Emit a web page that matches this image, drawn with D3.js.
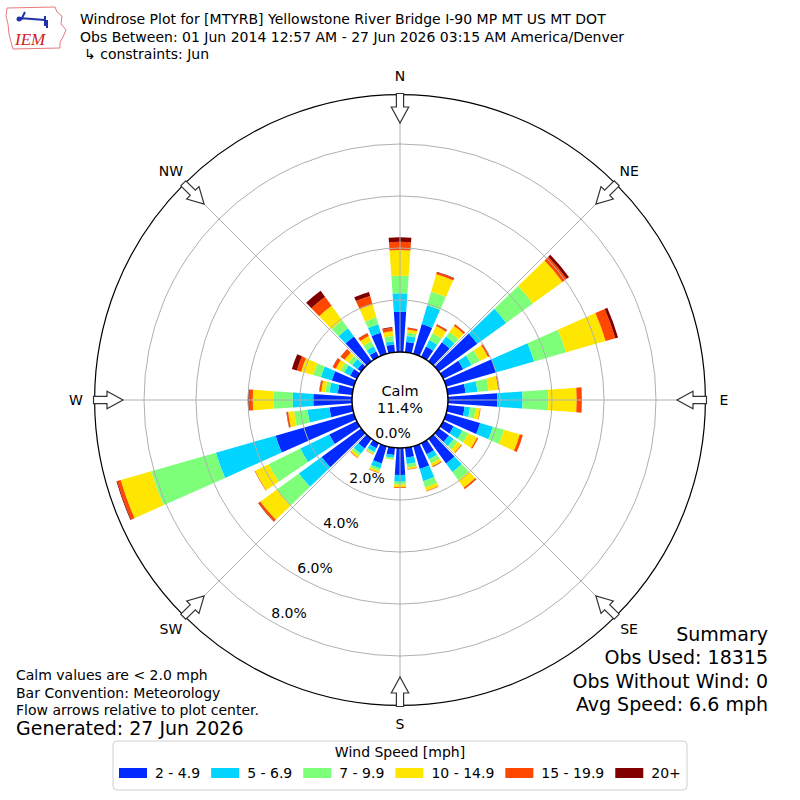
<!DOCTYPE html>
<html>
<head>
<meta charset="utf-8">
<script src="https://cdn.jsdelivr.net/npm/d3@7/dist/d3.min.js"></script>
<style>
  body { margin: 0; background: #fff; }
  text { font-family: "DejaVu Sans", sans-serif; }
</style>
</head>
<body>
<div id="chart"></div>
<script>
// wind directions (deg, from north, clockwise)
var directions = [0, 10, 20, 30, 40, 50, 60, 70, 80, 90, 100, 110, 120, 130, 140, 150, 160, 170,
                  180, 190, 200, 210, 220, 230, 240, 250, 260, 270, 280, 290, 300, 310, 320, 330, 340, 350];

var speedBins = ["2 - 4.9", "5 - 6.9", "7 - 9.9", "10 - 14.9", "15 - 19.9", "20+"];

// frequency (%) per direction for each speed bin
var s2to5   = [1.55, 0.40, 1.19, 0.44, 0.90, 1.83, 0.86, 2.01, 0.69, 1.90, 0.65, 1.36, 0.45, 0.48, 1.17, 0.48, 0.91, 0.38,
               1.04, 0.28, 0.69, 0.22, 0.46, 1.88, 1.18, 3.13, 0.88, 1.49, 0.56, 0.88, 0.29, 0.17, 1.17, 0.23, 0.84, 0.30];
var s5to7   = [0.71, 0.23, 0.75, 0.28, 0.27, 1.37, 0.36, 1.51, 0.46, 0.97, 0.21, 0.51, 0.37, 0.23, 0.41, 0.21, 0.49, 0.25,
               0.26, 0.11, 0.20, 0.16, 0.25, 1.08, 1.24, 2.39, 0.85, 0.79, 0.32, 0.44, 0.25, 0.26, 0.39, 0.22, 0.34, 0.13];
var s7to10  = [0.67, 0.13, 0.55, 0.29, 0.22, 1.27, 0.35, 1.28, 0.43, 0.99, 0.22, 0.45, 0.26, 0.18, 0.38, 0.18, 0.25, 0.13,
               0.10, 0.06, 0.09, 0.07, 0.10, 1.05, 1.36, 2.59, 0.52, 0.75, 0.16, 0.31, 0.16, 0.18, 0.38, 0.22, 0.27, 0.20];
var s10to15 = [0.99, 0.12, 0.70, 0.31, 0.29, 1.41, 0.35, 1.58, 0.37, 1.09, 0.17, 0.63, 0.37, 0.18, 0.36, 0.12, 0.14, 0.07,
               0.11, 0.02, 0.08, 0.04, 0.09, 0.78, 0.58, 1.22, 0.23, 0.79, 0.16, 0.48, 0.20, 0.18, 0.69, 0.22, 0.52, 0.19];
var s15to20 = [0.32, 0.07, 0.08, 0.06, 0.07, 0.20, 0.06, 0.39, 0.02, 0.19, 0.02, 0.12, 0.05, 0.03, 0.06, 0.03, 0.02, 0.02,
               0.03, 0.00, 0.02, 0.01, 0.02, 0.09, 0.02, 0.14, 0.06, 0.13, 0.07, 0.17, 0.13, 0.18, 0.43, 0.12, 0.35, 0.13];
var s20plus = [0.17, 0.01, 0.02, 0.02, 0.01, 0.11, 0.01, 0.11, 0.01, 0.01, 0.00, 0.00, 0.00, 0.00, 0.01, 0.01, 0.00, 0.00,
               0.00, 0.00, 0.00, 0.00, 0.00, 0.02, 0.00, 0.03, 0.01, 0.06, 0.01, 0.20, 0.01, 0.01, 0.29, 0.01, 0.16, 0.03];

var ringTicks = [0, 2, 4, 6, 8];
var compassLabels = ["N", "NE", "E", "SE", "S", "SW", "W", "NW"];
var compassAngles = [0, 45, 90, 135, 180, 225, 270, 315];

var calmPct = 11.4;
var titleLines = ["Windrose Plot for [MTYRB] Yellowstone River Bridge I-90 MP MT US MT DOT",
                  "Obs Between: 01 Jun 2014 12:57 AM - 27 Jun 2026 03:15 AM America/Denver"];
var constraintLine = "\u21B3 constraints: Jun";
var notes = ["Calm values are < 2.0 mph", "Bar Convention: Meteorology", "Flow arrows relative to plot center."];
var generated = "Generated: 27 Jun 2026";
var summary = ["Summary", "Obs Used: 18315", "Obs Without Wind: 0", "Avg Speed: 6.6 mph"];

var colors = ["#002aff", "#00d4ff", "#7dff7a", "#ffe600", "#ff4700", "#800000"];

var width = 800, height = 800;
var cx = 400, cy = 400;
var calmR = 48;
var rMaxPct = 9.9;

var svg = d3.select("#chart").append("svg")
    .attr("width", width)
    .attr("height", height);

var rad = Math.PI / 180;
var r = d3.scaleLinear().domain([0, rMaxPct]).range([calmR, 305.4]);

var rows = directions.map(function(d, i) {
    return {dir: d, b0: s2to5[i], b1: s5to7[i], b2: s7to10[i], b3: s10to15[i], b4: s15to20[i], b5: s20plus[i]};
});
var keys = ["b0", "b1", "b2", "b3", "b4", "b5"];
var stacked = d3.stack().keys(keys)(rows);

var plot = svg.append("g").attr("transform", "translate(" + cx + "," + cy + ")");

var arc = d3.arc()
    .innerRadius(function(d) { return r(d[0]); })
    .outerRadius(function(d) { return r(d[1]); })
    .startAngle(function(d) { return (d.data.dir - 4) * rad; })
    .endAngle(function(d) { return (d.data.dir + 4) * rad; });

stacked.forEach(function(layer, k) {
    plot.append("g")
        .selectAll("path")
        .data(layer.filter(function(d) { return d[1] - d[0] > 0; }))
        .join("path")
        .attr("fill", colors[k])
        .attr("d", arc);
});

// grid on top of bars
plot.selectAll("circle.ring")
    .data(ringTicks.filter(function(t) { return t > 0; }))
    .join("circle")
    .attr("class", "ring")
    .attr("r", function(d) { return r(d); })
    .attr("fill", "none")
    .attr("stroke", "#b0b0b0")
    .attr("stroke-width", 1);

plot.selectAll("line.spoke")
    .data(compassAngles)
    .join("line")
    .attr("class", "spoke")
    .attr("x1", 0).attr("y1", 0)
    .attr("x2", function(d) { return r(rMaxPct) * Math.sin(d * rad); })
    .attr("y2", function(d) { return -r(rMaxPct) * Math.cos(d * rad); })
    .attr("stroke", "#b0b0b0")
    .attr("stroke-width", 1);

plot.append("circle")
    .attr("r", r(rMaxPct))
    .attr("fill", "none")
    .attr("stroke", "#000")
    .attr("stroke-width", 1.2);

// calm circle
plot.append("circle")
    .attr("r", calmR)
    .attr("fill", "#fff")
    .attr("stroke", "#000")
    .attr("stroke-width", 1.5);

plot.append("text")
    .attr("x", 0).attr("y", -4)
    .attr("text-anchor", "middle")
    .attr("font-size", 14.5)
    .text("Calm");
plot.append("text")
    .attr("x", 0).attr("y", 13)
    .attr("text-anchor", "middle")
    .attr("font-size", 14.5)
    .text(calmPct.toFixed(1) + "%");

// radial tick labels
plot.selectAll("text.rlabel")
    .data(ringTicks)
    .join("text")
    .attr("class", "rlabel")
    .attr("x", function(d) { return -7 - (r(d) - calmR) * 0.5; })
    .attr("y", function(d) { return 33 + (r(d) - calmR) * 0.866; })
    .attr("text-anchor", "middle")
    .attr("dy", "0.35em")
    .attr("font-size", 14)
    .text(function(d) { return d.toFixed(1) + "%"; });

// compass labels
plot.selectAll("text.compass")
    .data(compassLabels)
    .join("text")
    .attr("class", "compass")
    .attr("x", function(d, i) { return 324 * Math.sin(compassAngles[i] * rad); })
    .attr("y", function(d, i) { return -324 * Math.cos(compassAngles[i] * rad); })
    .attr("text-anchor", "middle")
    .attr("dy", "0.35em")
    .attr("font-size", 14)
    .text(function(d) { return d; });

// flow arrows pointing to center
var arrowPts = [[-3.6, -306.5], [3.6, -306.5], [3.6, -293], [8.7, -293], [0, -277], [-8.7, -293], [-3.6, -293]];
plot.selectAll("polygon.arrow")
    .data(compassAngles)
    .join("polygon")
    .attr("class", "arrow")
    .attr("points", arrowPts.map(function(p) { return p.join(","); }).join(" "))
    .attr("transform", function(d) { return "rotate(" + d + ")"; })
    .attr("fill", "#fff")
    .attr("stroke", "#333")
    .attr("stroke-width", 1.2);

// header
svg.selectAll("text.title")
    .data(titleLines)
    .join("text")
    .attr("class", "title")
    .attr("x", 80)
    .attr("y", function(d, i) { return 24 + i * 18; })
    .attr("font-size", 14)
    .text(function(d) { return d; });
svg.append("text")
    .attr("x", 84).attr("y", 59)
    .attr("font-size", 14)
    .text(constraintLine);

// IEM logo (rough)
var logo = svg.append("g").attr("transform", "translate(5,4)");
logo.append("path")
    .attr("d", "M2,4 L50,3 L52,8 L57,12 L56,20 L61,26 L58,33 L55,38 L55,44 L8,45 L6,38 L4,30 L3,20 L1,12 Z")
    .attr("fill", "none")
    .attr("stroke", "#e87a7a")
    .attr("stroke-width", 1);
logo.append("path")
    .attr("d", "M14,14 L40,16 M40,12 L40,22 M20,8 L16,16 M42,16 L42,24")
    .attr("fill", "none")
    .attr("stroke", "#2233aa")
    .attr("stroke-width", 2);
logo.append("circle").attr("cx", 14).attr("cy", 15).attr("r", 2.5).attr("fill", "#2233aa");
logo.append("text")
    .attr("x", 10).attr("y", 41)
    .attr("font-style", "italic")
    .attr("font-size", 17)
    .attr("fill", "#d02020")
    .style("font-family", "'Liberation Serif', serif")
    .text("IEM");

// footnotes
svg.selectAll("text.note")
    .data(notes)
    .join("text")
    .attr("class", "note")
    .attr("x", 16)
    .attr("y", function(d, i) { return 680 + i * 17.5; })
    .attr("font-size", 14)
    .text(function(d) { return d; });
svg.append("text")
    .attr("x", 16).attr("y", 735)
    .attr("font-size", 19)
    .text(generated);

svg.selectAll("text.summary")
    .data(summary)
    .join("text")
    .attr("class", "summary")
    .attr("x", 768)
    .attr("y", function(d, i) { return 641 + i * 23.3; })
    .attr("text-anchor", "end")
    .attr("font-size", 19)
    .text(function(d) { return d; });

// legend
var legend = svg.append("g");
legend.append("rect")
    .attr("x", 113).attr("y", 741)
    .attr("width", 574).attr("height", 49)
    .attr("rx", 4)
    .attr("fill", "#fff")
    .attr("stroke", "#d0d0d0");
legend.append("text")
    .attr("x", 400).attr("y", 757)
    .attr("text-anchor", "middle")
    .attr("font-size", 14)
    .text("Wind Speed [mph]");

var lx = 119;
speedBins.forEach(function(lab, k) {
    legend.append("rect")
        .attr("x", lx).attr("y", 768)
        .attr("width", 28).attr("height", 10)
        .attr("fill", colors[k]);
    var t = legend.append("text")
        .attr("x", lx + 36).attr("y", 778)
        .attr("font-size", 14)
        .text(lab);
    lx += 36 + t.node().getComputedTextLength() + 11;
});
</script>
</body>
</html>
